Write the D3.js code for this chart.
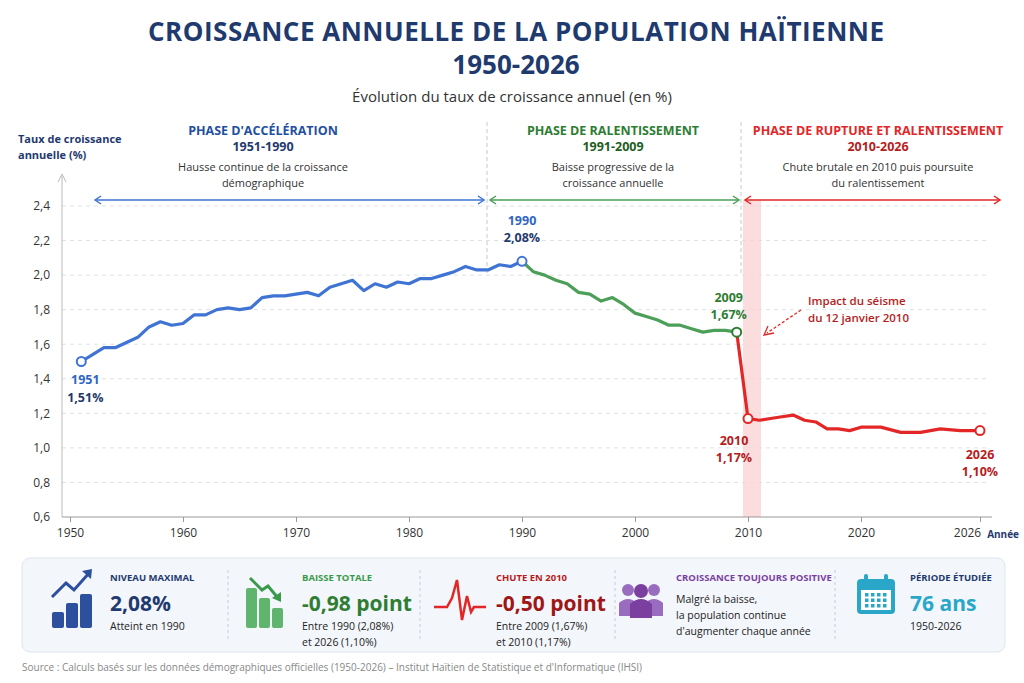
<!DOCTYPE html>
<html><head><meta charset="utf-8">
<script src="https://cdn.jsdelivr.net/npm/d3@7"></script>
<style>body{margin:0;background:#fff;font-family:"Open Sans",sans-serif}</style>
</head><body><div id="chart"></div>
<script>
const years1 = d3.range(1951, 1991)
const vals1 = [1.50,1.54,1.58,1.58,1.61,1.64,1.70,1.73,1.71,1.72,1.77,1.77,1.80,1.81,1.80,1.81,1.87,1.88,1.88,1.89,
  1.90,1.88,1.93,1.95,1.97,1.91,1.95,1.93,1.96,1.95,1.98,1.98,2.00,2.02,2.05,2.03,2.03,2.06,2.05,2.08]
const years2 = d3.range(1990, 2010)
const vals2 = [2.08,2.02,2.00,1.97,1.95,1.90,1.89,1.85,1.87,1.83,1.78,1.76,1.74,1.71,1.71,1.69,1.67,1.68,1.68,1.67]
const years3 = d3.range(2009, 2027)
const vals3 = [1.67,1.17,1.16,1.17,1.18,1.19,1.16,1.15,1.11,1.11,1.10,1.12,1.12,1.09,1.09,1.11,1.10,1.10]
const xTicks = [1950,1960,1970,1980,1990,2000,2010,2020,2026]
const yTicks = [0.6,0.8,1.0,1.2,1.4,1.6,1.8,2.0,2.2,2.4]

const navy = "#1f3a6e", blue = "#3f74d4", green = "#4c9f58", dgreen = "#2e7d32", red = "#e32626", dred = "#b71c1c"

const svg = d3.select("#chart").append("svg").attr("width", 1024).attr("height", 683)
  .style("font-family", "'Open Sans', sans-serif")

const x = d3.scaleLinear().domain([1950, 2020, 2026]).range([70, 861, 980])
const y = d3.scaleLinear().domain([0.6, 2.4]).range([517, 206])

// titles
svg.append("text").attr("x", 516).attr("y", 41).attr("text-anchor", "middle").attr("font-size", 26)
  .attr("font-weight", 700).attr("fill", navy).attr("textLength", 736).text("CROISSANCE ANNUELLE DE LA POPULATION HAÏTIENNE")
svg.append("text").attr("x", 516).attr("y", 74).attr("text-anchor", "middle").attr("font-size", 26)
  .attr("font-weight", 700).attr("fill", navy).text("1950-2026")
svg.append("text").attr("x", 512).attr("y", 102).attr("text-anchor", "middle").attr("font-size", 15)
  .attr("fill", "#333").text("Évolution du taux de croissance annuel (en %)")
svg.append("text").attr("x", 18).attr("y", 143).attr("font-size", 11).attr("font-weight", 700).attr("fill", navy).text("Taux de croissance")
svg.append("text").attr("x", 18).attr("y", 159).attr("font-size", 11).attr("font-weight", 700).attr("fill", navy).text("annuelle (%)")

// grid
svg.append("g").selectAll("line").data(yTicks.slice(1)).enter().append("line")
  .attr("x1", 62).attr("x2", 990).attr("y1", d => y(d)).attr("y2", d => y(d))
  .attr("stroke", "#dde1e6").attr("stroke-dasharray", "4,4")

// red band
svg.append("rect").attr("x", 743).attr("y", 200).attr("width", 18).attr("height", 317).attr("fill", "#fbd5d5").attr("opacity", 0.8)

// separators
;[487, 741].forEach(px => svg.append("line").attr("x1", px).attr("x2", px).attr("y1", 122).attr("y2", 275)
  .attr("stroke", "#c8c8c8").attr("stroke-dasharray", "4,3"))

// axes
const yAxis = svg.append("g").attr("transform", "translate(62,0)")
  .call(d3.axisLeft(y).tickValues(yTicks).tickFormat(d => d.toFixed(1).replace(".", ",")).tickSize(0).tickPadding(12))
yAxis.select(".domain").remove()
yAxis.selectAll("text").attr("font-size", 12).attr("fill", "#333").attr("font-family", "'Open Sans', sans-serif")
svg.append("line").attr("x1", 62).attr("x2", 62).attr("y1", 176).attr("y2", 517).attr("stroke", "#bbb")
svg.append("path").attr("d", "M58,182L62,174L66,182").attr("fill", "none").attr("stroke", "#bbb")

const xAxis = svg.append("g").attr("transform", "translate(0,517)")
  .call(d3.axisBottom(x).tickValues(xTicks).tickFormat(d => d).tickSize(5).tickPadding(6))
xAxis.select(".domain").attr("d", "M62,0H992").attr("stroke", "#999")
xAxis.selectAll("line").attr("stroke", "#999")
xAxis.selectAll("text").attr("font-size", 12).attr("fill", "#333").attr("font-family", "'Open Sans', sans-serif")
xAxis.selectAll(".tick text").filter(d => d == 2026).attr("dx", -13)
svg.append("text").attr("x", 1019).attr("y", 538).attr("text-anchor", "end").attr("font-size", 10).attr("font-weight", 700).attr("fill", navy).text("Année")

// phase headers
const phases = [
  {cx: 263, c: blue, c2: navy, t1: "PHASE D'ACCÉLÉRATION", t2: "1951-1990", d: ["Hausse continue de la croissance", "démographique"], a: [95, 484]},
  {cx: 613, c: dgreen, c2: "#1e5e22", t1: "PHASE DE RALENTISSEMENT", t2: "1991-2009", d: ["Baisse progressive de la", "croissance annuelle"], a: [490, 739]},
  {cx: 878, c: red, c2: dred, t1: "PHASE DE RUPTURE ET RALENTISSEMENT", t2: "2010-2026", d: ["Chute brutale en 2010 puis poursuite", "du ralentissement"], a: [745, 1000]}
]
phases.forEach((p, i) => {
  const g = svg.append("g").attr("text-anchor", "middle")
  g.append("text").attr("x", p.cx).attr("y", 135).attr("font-size", 12.5).attr("font-weight", 700).attr("fill", i == 0 ? "#1f4fa0" : p.c).text(p.t1)
  g.append("text").attr("x", p.cx).attr("y", 151).attr("font-size", 12.5).attr("font-weight", 700).attr("fill", p.c2).text(p.t2)
  p.d.forEach((l, j) => g.append("text").attr("x", p.cx).attr("y", 171 + j * 16).attr("font-size", 11).attr("fill", "#333").text(l))
  const ac = i == 1 ? green : p.c
  svg.append("line").attr("x1", p.a[0]).attr("x2", p.a[1]).attr("y1", 200).attr("y2", 200).attr("stroke", ac).attr("stroke-width", 1.5)
  svg.append("path").attr("d", `M${p.a[0] + 6},196L${p.a[0]},200L${p.a[0] + 6},204M${p.a[1] - 6},196L${p.a[1]},200L${p.a[1] - 6},204`)
    .attr("fill", "none").attr("stroke", ac).attr("stroke-width", 1.5)
})

// lines
const line = d3.line().x(d => x(d[0])).y(d => y(d[1]))
const seg = (ys, vs, c) => svg.append("path").datum(d3.zip(ys, vs)).attr("d", line)
  .attr("fill", "none").attr("stroke", c).attr("stroke-width", 3.2).attr("stroke-linejoin", "round")
seg(years1, vals1, blue)
seg(years2, vals2, green)
seg(years3, vals3, red)

// markers and labels
const marks = [
  {yr: 1951, v: vals1[0], c: blue, l1: "1951", l2: "1,51%", c1: "#2f66c4", c2: navy, dx: 4, dy1: 22, dy2: 40},
  {yr: 1990, v: 2.08, c: blue, l1: "1990", l2: "2,08%", c1: "#2f66c4", c2: navy, dx: 0, dy1: -36, dy2: -19},
  {yr: 2009, v: 1.67, c: dgreen, l1: "2009", l2: "1,67%", c1: dgreen, c2: dgreen, dx: -8, dy1: -30, dy2: -13},
  {yr: 2010, v: 1.17, c: red, l1: "2010", l2: "1,17%", c1: dred, c2: dred, dx: -14, dy1: 26, dy2: 43},
  {yr: 2026, v: 1.10, c: red, l1: "2026", l2: "1,10%", c1: dred, c2: dred, dx: 0, dy1: 28, dy2: 45}
]
marks.forEach(m => {
  const px = x(m.yr), py = y(m.v)
  svg.append("circle").attr("cx", px).attr("cy", py).attr("r", 4.5).attr("fill", "#fff").attr("stroke", m.c).attr("stroke-width", 2)
  svg.append("text").attr("x", px + m.dx).attr("y", py + m.dy1).attr("text-anchor", "middle").attr("font-size", 12.5).attr("font-weight", 700).attr("fill", m.c1).text(m.l1)
  svg.append("text").attr("x", px + m.dx).attr("y", py + m.dy2).attr("text-anchor", "middle").attr("font-size", 12.5).attr("font-weight", 700).attr("fill", m.c2).text(m.l2)
})

// seisme annotation
svg.append("text").attr("x", 808).attr("y", 305).attr("font-size", 11.5).attr("font-weight", 600).attr("fill", dred).text("Impact du séisme")
svg.append("text").attr("x", 808).attr("y", 322).attr("font-size", 11.5).attr("font-weight", 600).attr("fill", dred).text("du 12 janvier 2010")
svg.append("line").attr("x1", 801).attr("y1", 310).attr("x2", 767).attr("y2", 333).attr("stroke", red).attr("stroke-dasharray", "3,2").attr("stroke-width", 1.3)
svg.append("path").attr("d", "M768,326L764,335L774,333").attr("fill", "none").attr("stroke", red).attr("stroke-width", 1.3)

// bottom panel
svg.append("rect").attr("x", 22).attr("y", 558).attr("width", 983).attr("height", 94).attr("rx", 8)
  .attr("fill", "#f3f6fb").attr("stroke", "#dfe6f0")
;[228, 420, 615, 835].forEach(px => svg.append("line").attr("x1", px).attr("x2", px).attr("y1", 570).attr("y2", 640)
  .attr("stroke", "#c8ccd4").attr("stroke-dasharray", "3,3"))

const cards = [
  {x: 110, c: navy, h: "NIVEAU MAXIMAL", hc: navy, big: "2,08%", bc: navy, lines: ["Atteint en 1990"]},
  {x: 302, c: green, h: "BAISSE TOTALE", hc: "#3a9a4a", big: "-0,98 point", bc: dgreen, lines: ["Entre 1990 (2,08%)", "et 2026 (1,10%)"]},
  {x: 496, c: red, h: "CHUTE EN 2010", hc: dred, big: "-0,50 point", bc: "#9e1616", lines: ["Entre 2009 (1,67%)", "et 2010 (1,17%)"]},
  {x: 676, c: "#7b3fa0", h: "CROISSANCE TOUJOURS POSITIVE", hc: "#7b3fa0", big: null, lines: ["Malgré la baisse,", "la population continue", "d'augmenter chaque année"]},
  {x: 910, c: "#2aa7c8", h: "PÉRIODE ÉTUDIÉE", hc: navy, big: "76 ans", bc: "#2aa7c8", lines: ["1950-2026"]}
]
cards.forEach(cd => {
  svg.append("text").attr("x", cd.x).attr("y", 581).attr("font-size", 9.5).attr("font-weight", 700).attr("fill", cd.hc).text(cd.h)
  if (cd.big) {
    svg.append("text").attr("x", cd.x).attr("y", 611).attr("font-size", 21).attr("font-weight", 700).attr("fill", cd.bc).text(cd.big)
    cd.lines.forEach((l, j) => svg.append("text").attr("x", cd.x).attr("y", 630 + j * 16).attr("font-size", 10.5).attr("fill", "#222").text(l))
  } else {
    cd.lines.forEach((l, j) => svg.append("text").attr("x", cd.x).attr("y", 603 + j * 16).attr("font-size", 10.5).attr("fill", "#222").text(l))
  }
})

// icons
const ic = svg.append("g")
;[[52, 612, 16], [66, 603, 25], [80, 594, 34]].forEach(b => ic.append("rect").attr("x", b[0]).attr("y", b[1]).attr("width", 12).attr("height", b[2]).attr("rx", 2).attr("fill", "#2c4f9e"))
ic.append("path").attr("d", "M52,597L66,583L74,590L90,572").attr("fill", "none").attr("stroke", "#2c4f9e").attr("stroke-width", 3)
ic.append("path").attr("d", "M82,571L92,569L91,579Z").attr("fill", "#2c4f9e")
;[[246, 588, 40], [259, 598, 30], [272, 608, 20]].forEach(b => ic.append("rect").attr("x", b[0]).attr("y", b[1]).attr("width", 11).attr("height", b[2]).attr("rx", 2).attr("fill", "#5fb56e"))
ic.append("path").attr("d", "M250,578L262,590L268,586L278,598").attr("fill", "none").attr("stroke", "#3a9a4a").attr("stroke-width", 3)
ic.append("path").attr("d", "M272,598L281,602L281,592Z").attr("fill", "#3a9a4a")
ic.append("path").attr("d", "M434,607H447L452,598L457,580L462,620L467,596L471,612L474,607H486").attr("fill", "none").attr("stroke", red).attr("stroke-width", 2.5)
;[[628, 596], [654, 596]].forEach(p => {
  ic.append("circle").attr("cx", p[0]).attr("cy", p[1] - 6).attr("r", 6).attr("fill", "#9a6cc0")
  ic.append("path").attr("d", `M${p[0] - 9},${p[1] + 20}V${p[1] + 7}Q${p[0]},${p[1] - 1} ${p[0] + 9},${p[1] + 7}V${p[1] + 20}Z`).attr("fill", "#9a6cc0")
})
ic.append("circle").attr("cx", 641).attr("cy", 591).attr("r", 7).attr("fill", "#7b3fa0")
ic.append("path").attr("d", "M630,618V604Q641,594 652,604V618Z").attr("fill", "#7b3fa0")
ic.append("rect").attr("x", 857).attr("y", 579).attr("width", 38).attr("height", 35).attr("rx", 4).attr("fill", "#2aa7c8")
ic.append("rect").attr("x", 861).attr("y", 590).attr("width", 30).attr("height", 20).attr("fill", "#fff")
;[866, 886].forEach(px => ic.append("rect").attr("x", px - 2).attr("y", 574).attr("width", 4).attr("height", 10).attr("rx", 2).attr("fill", "#2aa7c8"))
for (let r = 0; r < 3; r++) for (let c = 0; c < 4; c++)
  ic.append("rect").attr("x", 865 + c * 6).attr("y", 593 + r * 5.5).attr("width", 3.5).attr("height", 3.5).attr("fill", "#2aa7c8")

svg.append("text").attr("x", 22).attr("y", 671).attr("font-size", 10).attr("fill", "#888")
  .text("Source : Calculs basés sur les données démographiques officielles (1950-2026) – Institut Haïtien de Statistique et d'Informatique (IHSI)")
</script></body></html>
